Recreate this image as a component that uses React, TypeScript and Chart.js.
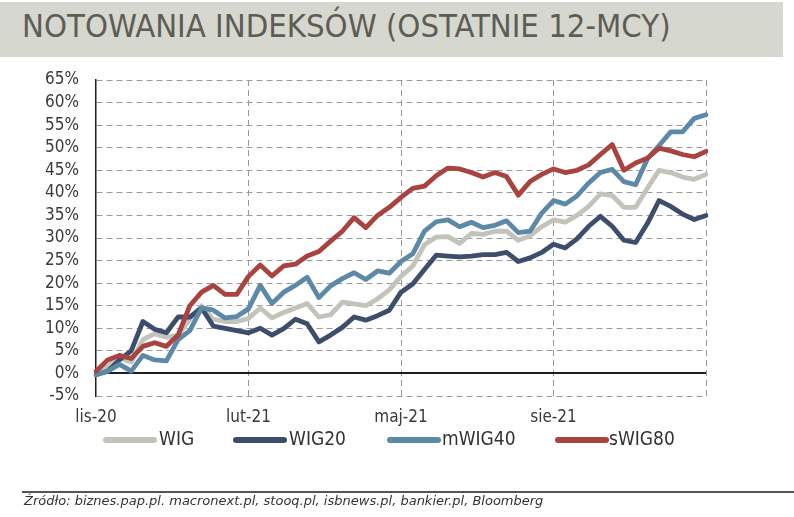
import React, { useEffect, useRef } from 'react';
import { Chart, registerables } from 'chart.js';

Chart.register(...registerables);

const weeks: string[] = [
  '2020-11-02', '2020-11-09', '2020-11-16', '2020-11-23', '2020-11-30',
  '2020-12-07', '2020-12-14', '2020-12-21', '2020-12-28',
  '2021-01-04', '2021-01-11', '2021-01-18', '2021-01-25',
  '2021-02-01', '2021-02-08', '2021-02-15', '2021-02-22',
  '2021-03-01', '2021-03-08', '2021-03-15', '2021-03-22', '2021-03-29',
  '2021-04-05', '2021-04-12', '2021-04-19', '2021-04-26',
  '2021-05-03', '2021-05-10', '2021-05-17', '2021-05-24', '2021-05-31',
  '2021-06-07', '2021-06-14', '2021-06-21', '2021-06-28',
  '2021-07-05', '2021-07-12', '2021-07-19', '2021-07-26',
  '2021-08-02', '2021-08-09', '2021-08-16', '2021-08-23', '2021-08-30',
  '2021-09-06', '2021-09-13', '2021-09-20', '2021-09-27',
  '2021-10-04', '2021-10-11', '2021-10-18', '2021-10-25',
  '2021-11-01',
];

const tickIndex: number[] = [0, 13, 26, 39];
const tickText: string[] = ['lis-20', 'lut-21', 'maj-21', 'sie-21'];

const wig: number[] = [
  0, 1.5, 3.5, 2.5, 7.5, 8.8, 8, 8.5, 12, 15,
  12, 11.5, 11.5, 12.2, 14.5, 12.3, 13.5, 14.5, 15.5, 12.5,
  13, 15.8, 15.4, 15, 16.5, 18.5, 21.5, 23.8, 28.5, 30.2,
  30.3, 28.8, 31, 30.8, 31.5, 31.5, 29.5, 30.5, 32.5, 34,
  33.5, 35, 37, 39.8, 39.4, 36.8, 36.8, 41, 45, 44.5,
  43.5, 43, 44.1,
];

const wig20: number[] = [
  -0.3, 0.5, 3, 5, 11.5, 9.8, 9, 12.5, 12.5, 14.5,
  10.5, 10, 9.5, 9, 10, 8.5, 9.9, 12, 11, 7,
  8.5, 10.2, 12.5, 11.8, 12.8, 14, 18, 19.8, 23, 26.2,
  26, 25.8, 26, 26.3, 26.3, 26.8, 24.8, 25.6, 26.8, 28.6,
  27.8, 29.8, 32.6, 34.8, 32.6, 29.5, 29, 33.2, 38.3, 37,
  35.3, 34.1, 35,
];

const mwig40: number[] = [
  -0.3, 0.5, 2, 0.5, 4, 3, 2.8, 7.5, 9.5, 14.5,
  14, 12.3, 12.6, 14.3, 19.5, 15.5, 18, 19.5, 21.3, 16.8,
  19.4, 21, 22.3, 20.8, 22.7, 22.2, 24.8, 26.5, 31.5, 33.6,
  34, 32.5, 33.5, 32.3, 32.8, 33.8, 31.2, 31.5, 35.5, 38.3,
  37.5, 39.3, 42.2, 44.5, 45.2, 42.5, 41.8, 47.5, 50.5, 53.5,
  53.5, 56.5, 57.3,
];

const swig80: number[] = [
  0.5, 3, 4, 3.3, 6, 6.8, 6, 8.5, 15, 18,
  19.5, 17.5, 17.5, 21.5, 24, 21.6, 23.8, 24.2, 26, 27,
  29.3, 31.5, 34.5, 32.3, 35, 36.8, 39, 41, 41.5, 43.8,
  45.5, 45.3, 44.5, 43.5, 44.5, 43.6, 39.5, 42.5, 44.1, 45.3,
  44.5, 45, 46.2, 48.5, 50.7, 45, 46.6, 47.7, 49.9, 49.3,
  48.5, 48, 49.2,
];

const seriesNames: string[] = ['WIG', 'WIG20', 'mWIG40', 'sWIG80'];
const seriesColors: string[] = ['#c3c3bb', '#3d4e6c', '#5c89a7', '#a8433f'];

const FONT = '"DejaVu Sans Condensed", "DejaVu Sans", sans-serif';

export default function App() {
  const canvasRef = useRef<HTMLCanvasElement | null>(null);

  useEffect(() => {
    if (!canvasRef.current) return;
    const values = [wig, wig20, mwig40, swig80];
    const last = weeks.length - 1;
    const chart = new Chart(canvasRef.current, {
      type: 'line',
      data: {
        labels: weeks,
        datasets: seriesNames.map((name, i) => ({
          label: name,
          data: values[i],
          borderColor: seriesColors[i],
          backgroundColor: seriesColors[i],
          borderWidth: 4.8,
          pointRadius: 0,
          pointHoverRadius: 0,
          tension: 0,
          fill: false,
          borderCapStyle: 'round' as const,
          borderJoinStyle: 'round' as const,
          order: 4 - i,
        })),
      },
      options: {
        responsive: false,
        animation: false,
        layout: { padding: { top: 80, left: 0, right: 88, bottom: 81 } },
        plugins: {
          legend: { display: false },
          tooltip: { enabled: false },
          title: { display: false },
        },
        scales: {
          x: {
            type: 'category',
            offset: false,
            grid: {
              drawTicks: false,
              lineWidth: 1,
              color: (ctx: any) =>
                ctx.index > 0 && (tickIndex.includes(ctx.index) || ctx.index === last)
                  ? '#999999'
                  : 'rgba(0,0,0,0)',
            },
            border: { display: false, dash: [6, 4] },
            ticks: {
              autoSkip: false,
              maxRotation: 0,
              minRotation: 0,
              padding: 11,
              color: '#3a3a3a',
              font: { family: FONT, size: 17 },
              callback: (_v: any, i: number) => {
                const k = tickIndex.indexOf(i);
                return k >= 0 ? tickText[k] : '';
              },
            },
            afterFit: (s: any) => {
              s.height = 40;
            },
          },
          y: {
            min: -5,
            max: 65,
            grid: {
              drawTicks: false,
              color: (ctx: any) => (ctx.tick && ctx.tick.value === 0 ? '#1e1e1e' : '#9a9a9a'),
              lineWidth: (ctx: any) => (ctx.tick && ctx.tick.value === 0 ? 2 : 1),
            },
            border: {
              display: true,
              color: '#1e1e1e',
              width: 1.5,
              dash: (ctx: any) => (ctx.tick && ctx.tick.value === 0 ? [] : [6, 4]),
            },
            ticks: {
              stepSize: 5,
              autoSkip: false,
              padding: 17,
              color: '#3a3a3a',
              font: { family: FONT, size: 17 },
              callback: (v: any) => `${v}%`,
            },
            afterFit: (s: any) => {
              s.width = 96;
            },
          },
        },
      },
    } as any);
    return () => chart.destroy();
  }, []);

  const legendItems = [
    { line: 103, text: 159 },
    { line: 233, text: 289 },
    { line: 387, text: 442 },
    { line: 555, text: 609 },
  ];

  return (
    <div style={{ position: 'absolute', left: 0, top: 0, width: 794, height: 517, background: '#ffffff', overflow: 'hidden' }}>
      <div style={{ position: 'absolute', left: 0, top: 2, width: 783, height: 55, background: '#d6d7cf' }} />
      <div
        style={{
          position: 'absolute',
          left: 22,
          top: 10,
          fontFamily: FONT,
          fontSize: 32.6,
          lineHeight: '32px',
          color: '#5d5d55',
          whiteSpace: 'nowrap',
        }}
      >
        NOTOWANIA INDEKSÓW (OSTATNIE 12-MCY)
      </div>
      <canvas ref={canvasRef} width={794} height={517} style={{ position: 'absolute', left: 0, top: 0 }} />
      {legendItems.map((it, i) => (
        <React.Fragment key={seriesNames[i]}>
          <div
            style={{
              position: 'absolute',
              left: it.line,
              top: 437,
              width: 54,
              height: 6,
              borderRadius: 3,
              background: seriesColors[i],
            }}
          />
          <div
            style={{
              position: 'absolute',
              left: it.text,
              top: 428,
              fontFamily: FONT,
              fontSize: 19,
              lineHeight: '20px',
              color: '#333333',
              whiteSpace: 'nowrap',
            }}
          >
            {seriesNames[i]}
          </div>
        </React.Fragment>
      ))}
      <div style={{ position: 'absolute', left: 22, top: 491, width: 772, height: 1.5, background: '#555555' }} />
      <div
        style={{
          position: 'absolute',
          left: 24,
          top: 493,
          fontFamily: '"DejaVu Sans", sans-serif',
          fontStyle: 'italic',
          fontSize: 13,
          lineHeight: '15px',
          color: '#333333',
          whiteSpace: 'nowrap',
        }}
      >
        Źródło: biznes.pap.pl. macronext.pl, stooq.pl, isbnews.pl, bankier.pl, Bloomberg
      </div>
    </div>
  );
}
